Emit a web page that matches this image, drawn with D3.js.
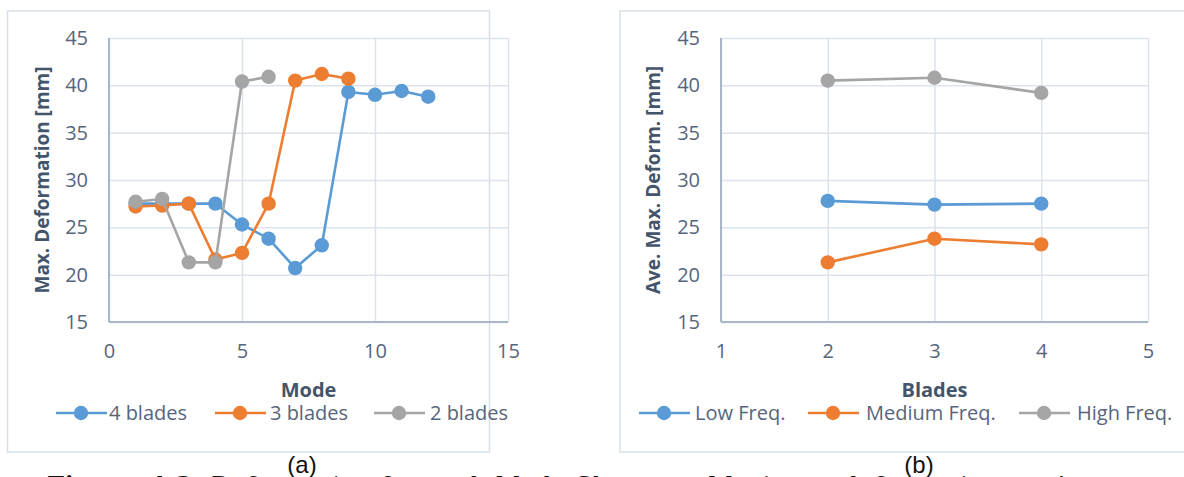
<!DOCTYPE html>
<html>
<head>
<meta charset="utf-8">
<script src="https://cdn.jsdelivr.net/npm/d3@7"></script>
<style>
  html, body { margin: 0; padding: 0; background: #fff; overflow: hidden; }
  svg { display: block; }
</style>
</head>
<body>
<svg id="fig" width="1184" height="477"></svg>
<script>
// Panel (a): maximum deformation per mode shape
const modes4 = [1, 2, 3, 4, 5, 6, 7, 8, 9, 10, 11, 12];
const blades4 = [27.5, 27.5, 27.5, 27.5, 25.3, 23.8, 20.7, 23.1, 39.3, 39.0, 39.4, 38.8];
const modes3 = [1, 2, 3, 4, 5, 6, 7, 8, 9];
const blades3 = [27.2, 27.3, 27.5, 21.6, 22.3, 27.5, 40.5, 41.2, 40.7];
const modes2 = [1, 2, 3, 4, 5, 6];
const blades2 = [27.7, 28.0, 21.3, 21.3, 40.4, 40.9];
const seriesNamesA = ["4 blades", "3 blades", "2 blades"];
const xTicksA = [0, 5, 10, 15];

// Panel (b): average maximum deformation per blade count
const bladeCounts = [2, 3, 4];
const lowFreq = [27.8, 27.4, 27.5];
const mediumFreq = [21.3, 23.8, 23.2];
const highFreq = [40.5, 40.8, 39.2];
const seriesNamesB = ["Low Freq.", "Medium Freq.", "High Freq."];
const xTicksB = [1, 2, 3, 4, 5];

const yTicks = [15, 20, 25, 30, 35, 40, 45];
const colors = ["#5B9BD5", "#ED7D31", "#A5A5A5"];

const svg = d3.select("#fig");
const FONT = "'Open Sans', 'Noto Sans', sans-serif";
const TICK_COLOR = "#56657c";
const TITLE_COLOR = "#44546A";
const GRID = "#dde3ec";
const AXIS = "#aab6ca";
const fmt = d3.format("d");

function drawPanel(cfg) {
  const g = svg.append("g");
  // outer chart frame
  g.append("rect")
    .attr("x", cfg.frame[0]).attr("y", cfg.frame[1])
    .attr("width", cfg.frame[2]).attr("height", cfg.frame[3])
    .attr("fill", "#fff").attr("stroke", "#d9dfe8").attr("stroke-width", 1.5);

  const x = d3.scaleLinear().domain(cfg.xDomain).range(cfg.xRange);
  const y = d3.scaleLinear().domain([15, 45]).range([322, 38]);
  const [x0, x1] = cfg.xRange;

  // horizontal grid
  g.append("g")
    .attr("transform", `translate(${x0},0)`)
    .call(d3.axisLeft(y).tickValues(yTicks).tickSize(-(x1 - x0)).tickFormat(""))
    .call(a => a.select(".domain").remove())
    .call(a => a.selectAll("line").attr("stroke", GRID).attr("stroke-width", 1.5));
  // vertical grid
  g.append("g")
    .attr("transform", `translate(0,322)`)
    .call(d3.axisBottom(x).tickValues(cfg.xTicks).tickSize(-(322 - 38)).tickFormat(""))
    .call(a => a.select(".domain").remove())
    .call(a => a.selectAll("line").attr("stroke", GRID).attr("stroke-width", 1.5));

  // y axis labels
  g.append("g")
    .attr("transform", `translate(${x0},0)`)
    .call(d3.axisLeft(y).tickValues(yTicks).tickSize(0).tickPadding(21).tickFormat(fmt))
    .call(a => a.select(".domain").remove())
    .call(a => a.selectAll("text").attr("font-family", FONT).attr("font-size", 20)
      .attr("fill", TICK_COLOR));
  // x axis labels
  g.append("g")
    .attr("transform", `translate(0,322)`)
    .call(d3.axisBottom(x).tickValues(cfg.xTicks).tickSize(0).tickPadding(22).tickFormat(fmt))
    .call(a => a.select(".domain").remove())
    .call(a => a.selectAll("text").attr("font-family", FONT).attr("font-size", 20)
      .attr("fill", TICK_COLOR));

  // axis lines
  g.append("line").attr("x1", x0).attr("x2", x0).attr("y1", 38).attr("y2", 322)
    .attr("stroke", AXIS).attr("stroke-width", 2);
  g.append("line").attr("x1", x0).attr("x2", x1).attr("y1", 322).attr("y2", 322)
    .attr("stroke", AXIS).attr("stroke-width", 2);

  // axis titles
  g.append("text")
    .attr("x", (x0 + x1) / 2).attr("y", 397)
    .attr("text-anchor", "middle")
    .attr("font-family", FONT).attr("font-weight", "bold").attr("font-size", 20)
    .attr("fill", TITLE_COLOR).text(cfg.xTitle);
  g.append("text")
    .attr("transform", `translate(${cfg.yTitleX},180) rotate(-90)`)
    .attr("text-anchor", "middle").attr("dy", "0.35em")
    .attr("font-family", FONT).attr("font-weight", "bold").attr("font-size", 19)
    .attr("fill", TITLE_COLOR).text(cfg.yTitle);

  // series
  const line = d3.line().x(d => x(d[0])).y(d => y(d[1]));
  cfg.series.forEach((s, i) => {
    const pts = s.xs.map((v, k) => [v, s.ys[k]]);
    const sg = g.append("g");
    sg.append("path").datum(pts).attr("d", line)
      .attr("fill", "none").attr("stroke", colors[i]).attr("stroke-width", 2.6)
      .attr("stroke-linejoin", "round");
    sg.selectAll("circle").data(pts).join("circle")
      .attr("cx", d => x(d[0])).attr("cy", d => y(d[1])).attr("r", 7.2)
      .attr("fill", colors[i]);
  });

  // legend
  const lg = g.append("g");
  cfg.legend.forEach((item, i) => {
    lg.append("line").attr("x1", item.lx).attr("x2", item.lx + 51)
      .attr("y1", 413).attr("y2", 413)
      .attr("stroke", colors[i]).attr("stroke-width", 2.6);
    lg.append("circle").attr("cx", item.lx + 25).attr("cy", 413).attr("r", 7.2)
      .attr("fill", colors[i]);
    lg.append("text").attr("x", item.tx).attr("y", 413).attr("dy", "0.35em")
      .attr("font-family", FONT).attr("font-size", 20).attr("fill", TICK_COLOR)
      .text(item.name);
  });
}

drawPanel({
  frame: [7.5, 11, 482, 441],
  xDomain: [0, 15], xRange: [109, 508], xTicks: xTicksA,
  xTitle: "Mode", yTitle: "Max. Deformation [mm]", yTitleX: 42,
  series: [
    { xs: modes4, ys: blades4 },
    { xs: modes3, ys: blades3 },
    { xs: modes2, ys: blades2 }
  ],
  legend: [
    { name: seriesNamesA[0], lx: 56, tx: 109 },
    { name: seriesNamesA[1], lx: 215, tx: 270 },
    { name: seriesNamesA[2], lx: 374, tx: 430 }
  ]
});

drawPanel({
  frame: [620, 11, 600, 441],
  xDomain: [1, 5], xRange: [721, 1148], xTicks: xTicksB,
  xTitle: "Blades", yTitle: "Ave. Max. Deform. [mm]", yTitleX: 653,
  series: [
    { xs: bladeCounts, ys: lowFreq },
    { xs: bladeCounts, ys: mediumFreq },
    { xs: bladeCounts, ys: highFreq }
  ],
  legend: [
    { name: seriesNamesB[0], lx: 639, tx: 695 },
    { name: seriesNamesB[1], lx: 808, tx: 866 },
    { name: seriesNamesB[2], lx: 1019, tx: 1077 }
  ]
});

// figure caption (runs off the bottom edge)
const cap = svg.append("text")
  .attr("x", 47).attr("y", 494)
  .attr("font-family", "'DejaVu Serif', serif").attr("font-size", 24)
  .attr("textLength", 1110).attr("lengthAdjust", "spacing")
  .attr("fill", "#111");
cap.append("tspan").attr("font-weight", "bold").text("Figure 4.2:");
cap.append("tspan").text(" Deformation for each Mode Shape vs. Maximum deformation vs. Average");

// sub-figure labels
[["(a)", 302], ["(b)", 919]].forEach(([t, cx]) => {
  svg.append("rect").attr("x", cx - 18).attr("y", 453).attr("width", 36).attr("height", 24)
    .attr("fill", "#fff");
  svg.append("text").attr("x", cx).attr("y", 473).attr("text-anchor", "middle")
    .attr("font-family", "'Liberation Sans', Arial, sans-serif").attr("font-size", 24)
    .attr("fill", "#111").text(t);
});
</script>
</body>
</html>
